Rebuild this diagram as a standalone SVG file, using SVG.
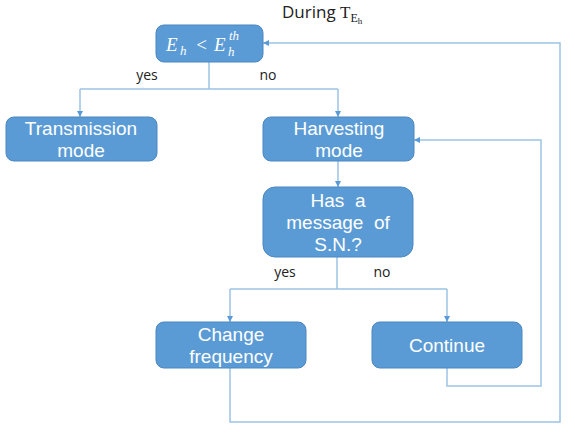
<svg xmlns="http://www.w3.org/2000/svg" width="575" height="435" viewBox="0 0 575 435">
<defs>
<marker id="ah" viewBox="0 0 6 6" refX="6" refY="3" markerWidth="6" markerHeight="6" orient="auto" markerUnits="userSpaceOnUse">
<path d="M0,0 L6,3 L0,6 z" fill="#5B9BD5"/>
</marker>
<style>
.box{fill:#5B9BD5;stroke:#4A87C0;stroke-width:1}
.t{font-family:"Liberation Sans",Arial,sans-serif;font-size:19px;fill:#fff;text-anchor:middle}
.lbl{font-family:"Open Sans","Noto Sans",sans-serif;font-size:14px;fill:#222;text-anchor:middle}
.c{fill:none;stroke:#9DC3E6;stroke-width:1.5}
.m{font-family:"Liberation Serif","DejaVu Serif",serif;font-style:italic;fill:#fff}
</style>
</defs>
<rect width="575" height="435" fill="#fff"/>
<text x="282" y="18" font-family="Open Sans, Noto Sans, sans-serif" font-size="17" fill="#222">During <tspan font-family="Liberation Serif, serif">T</tspan><tspan font-family="Liberation Serif, serif" font-size="12" dy="4">E</tspan><tspan font-family="Liberation Serif, serif" font-size="9" dy="2">h</tspan></text>
<g id="connectors">
<path class="c" d="M209,62 V89 M80,89 H338" />
<path class="c" d="M80,89 V117" marker-end="url(#ah)"/>
<path class="c" d="M338,89 V117" marker-end="url(#ah)"/>
<path class="c" d="M338,161 V187" marker-end="url(#ah)"/>
<path class="c" d="M337,257 V289 M230,289 H447"/>
<path class="c" d="M230,289 V322" marker-end="url(#ah)"/>
<path class="c" d="M447,289 V322" marker-end="url(#ah)"/>
<path class="c" d="M447,368 V386 H541 V140 H414" marker-end="url(#ah)"/>
<path class="c" d="M230,368 V422 H560 V43 H263" marker-end="url(#ah)"/>
<text class="lbl" x="147" y="80">yes</text>
<text class="lbl" x="268" y="80">no</text>
<text class="lbl" x="285" y="277">yes</text>
<text class="lbl" x="382" y="277">no</text>
</g>
<g id="n-cond">
<rect class="box" x="156" y="25" width="107" height="37" rx="8"/>
<text class="m" x="166" y="51" font-size="19">E</text>
<text class="m" x="180" y="55" font-size="13">h</text>
<text class="m" x="195" y="51" font-size="19" font-style="normal">&lt;</text>
<text class="m" x="214" y="51" font-size="19">E</text>
<text class="m" x="228" y="56" font-size="13">h</text>
<text class="m" x="229" y="40" font-size="13">th</text>
</g>
<g id="n-trans">
<rect class="box" x="6" y="117" width="151" height="44" rx="8"/>
<text class="t" x="81" y="135">Transmission</text>
<text class="t" x="81" y="157">mode</text>
</g>
<g id="n-harv">
<rect class="box" x="263" y="117" width="151" height="44" rx="8"/>
<text class="t" x="339" y="135">Harvesting</text>
<text class="t" x="339" y="157">mode</text>
</g>
<g id="n-msg">
<rect class="box" x="263" y="187" width="150" height="70" rx="12"/>
<text class="t" x="338" y="207" xml:space="preserve">Has  a</text>
<text class="t" x="338" y="229" xml:space="preserve">message  of</text>
<text class="t" x="338" y="251">S.N.?</text>
</g>
<g id="n-change">
<rect class="box" x="156" y="322" width="150" height="46" rx="8"/>
<text class="t" x="231" y="341">Change</text>
<text class="t" x="231" y="363">frequency</text>
</g>
<g id="n-cont">
<rect class="box" x="372" y="322" width="150" height="46" rx="8"/>
<text class="t" x="447" y="352">Continue</text>
</g>
</svg>
